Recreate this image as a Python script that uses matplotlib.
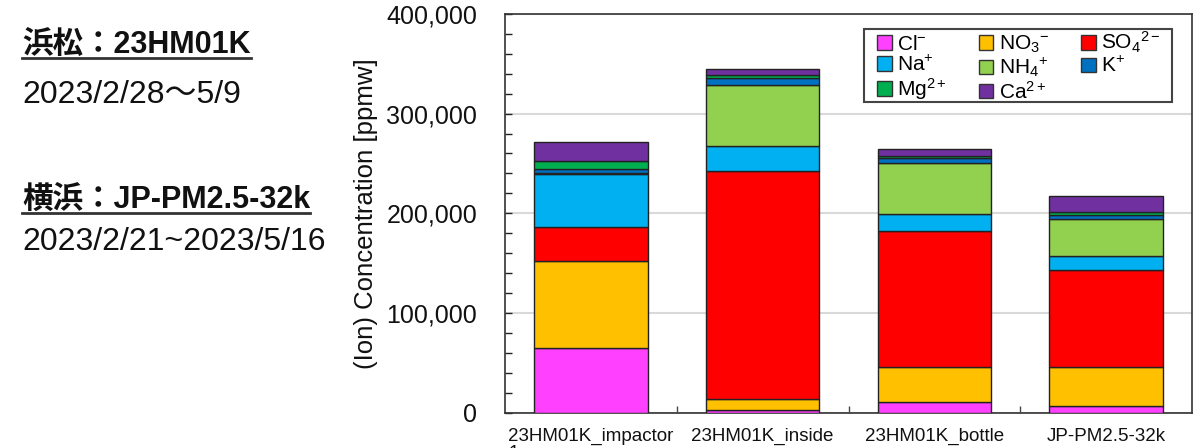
import matplotlib
matplotlib.use("Agg")
import matplotlib.pyplot as plt
from matplotlib.lines import Line2D
from matplotlib.patches import Patch, Rectangle
from matplotlib.ticker import MultipleLocator, FuncFormatter, FixedLocator
import numpy as np

plt.rcParams['font.family'] = ['Liberation Sans', 'Noto Sans CJK JP', 'DejaVu Sans']
plt.rcParams['mathtext.fontset'] = 'custom'
plt.rcParams['mathtext.rm'] = 'Liberation Sans'
plt.rcParams['mathtext.it'] = 'Liberation Sans'
plt.rcParams['mathtext.bf'] = 'Liberation Sans:bold'

categories = ['23HM01K_impactor\n1', '23HM01K_inside', '23HM01K_bottle', 'JP-PM2.5-32k']
ions = ['Cl', 'NO3', 'SO4', 'Na', 'NH4', 'K', 'Mg', 'Ca']
ion_labels = [r'Cl$^{-}$', r'NO$_3$$^{-}$', r'SO$_4$$^{2-}$', r'Na$^{+}$',
              r'NH$_4$$^{+}$', r'K$^{+}$', r'Mg$^{2+}$', r'Ca$^{2+}$']
Cl  = [64700, 2500, 10400, 6700]
NO3 = [87800, 11300, 34800, 38900]
SO4 = [34100, 228400, 137200, 97500]
Na  = [52300, 25100, 17200, 14100]
NH4 = [1500, 61000, 50800, 37200]
K   = [4000, 7700, 5400, 3600]
Mg  = [7600, 2700, 1700, 3400]
Ca  = [19300, 6400, 7000, 15700]
series = [Cl, NO3, SO4, Na, NH4, K, Mg, Ca]
colors = ['#FF40FF', '#FFC000', '#FF0000', '#00B0F0', '#92D050', '#0070C0', '#00B050', '#7030A0']

fig = plt.figure(figsize=(12, 4.48), dpi=100)
AX_L, AX_R, AX_T, AX_B = 505, 1192, 14, 412.5
ax = fig.add_axes([AX_L/1200, 1 - AX_B/448, (AX_R-AX_L)/1200, (AX_B-AX_T)/448])

def ax_x(px):
    return (px - AX_L) / (AX_R - AX_L)

def ax_y(py):
    return (AX_B - py) / (AX_B - AX_T)

x = np.arange(len(categories))
bottom = np.zeros(len(categories))
handles = []
for vals, col, lab in zip(series, colors, ion_labels):
    ax.bar(x, vals, width=0.66, bottom=bottom, color=col, edgecolor='#222222',
           linewidth=1.0, zorder=3)
    bottom += np.array(vals)
    handles.append(Patch(facecolor=col, edgecolor='#333333', linewidth=1.0, label=lab))

ax.set_xlim(-0.5, len(categories) - 0.5)
ax.set_ylim(0, 400000)
ax.yaxis.set_major_locator(MultipleLocator(100000))
ax.yaxis.set_minor_locator(MultipleLocator(20000))
ax.yaxis.set_major_formatter(FuncFormatter(lambda v, p: f'{int(v):,}'))
ax.tick_params(axis='y', which='both', direction='in', length=5, width=1.0,
               colors='#222222', labelsize=18, pad=20, labelcolor='#111111')
ax.set_xticks(x)
ax.set_xticklabels(categories, fontsize=13.5, color='#111111', va='top',
                   linespacing=1.0, multialignment='left')
ax.tick_params(axis='x', which='major', length=0, pad=11)
ax.xaxis.set_minor_locator(FixedLocator([0.5, 1.5, 2.5]))
ax.tick_params(axis='x', which='minor', direction='in', length=5, width=1.0, colors='#444444')
ax.grid(axis='y', which='major', color='#d9d9d9', linewidth=1.5, zorder=0)
ax.set_axisbelow(True)
for s in ax.spines.values():
    s.set_color('#333333')
    s.set_linewidth(1.2)
ax.set_ylabel('(Ion) Concentration [ppmw]', fontsize=18.5, color='#111111', labelpad=6)

# legend frame
ax.add_patch(Rectangle((ax_x(864), ax_y(102)), ax_x(1172) - ax_x(864), ax_y(29) - ax_y(102),
                       transform=ax.transAxes, facecolor='white', edgecolor='#444444',
                       linewidth=1.5, zorder=5))
order = [0, 3, 6, 1, 4, 7, 2, 5]
leg = ax.legend([handles[i] for i in order], [ion_labels[i] for i in order], ncol=3,
                loc='upper left', bbox_to_anchor=(ax_x(877), ax_y(30)),
                fontsize=15, frameon=False,
                handlelength=0.7, handleheight=0.7, handletextpad=0.25,
                columnspacing=1.55, labelspacing=0.05, borderpad=0, borderaxespad=0)
leg.set_zorder(6)

def header(txt, ybase, yline):
    t = fig.text(22/1200, 1 - ybase/448, txt, fontsize=22, fontweight='bold',
                 va='baseline', ha='left', color='#111111')
    fig.canvas.draw()
    bb = t.get_window_extent()
    fig.add_artist(Line2D([bb.x0/1200, bb.x1/1200], [1 - yline/448, 1 - yline/448],
                          transform=fig.transFigure, color='#333333', linewidth=2))

header('浜松：23HM01K', 53, 58)
fig.text(22/1200, 1 - 103/448, '2023/2/28～5/9', fontsize=23, va='baseline', ha='left', color='#111111')
header('横浜：JP-PM2.5-32k', 208, 213)
fig.text(22/1200, 1 - 250/448, '2023/2/21~2023/5/16', fontsize=23, va='baseline', ha='left', color='#111111')

fig.savefig('out.png', dpi=100)
